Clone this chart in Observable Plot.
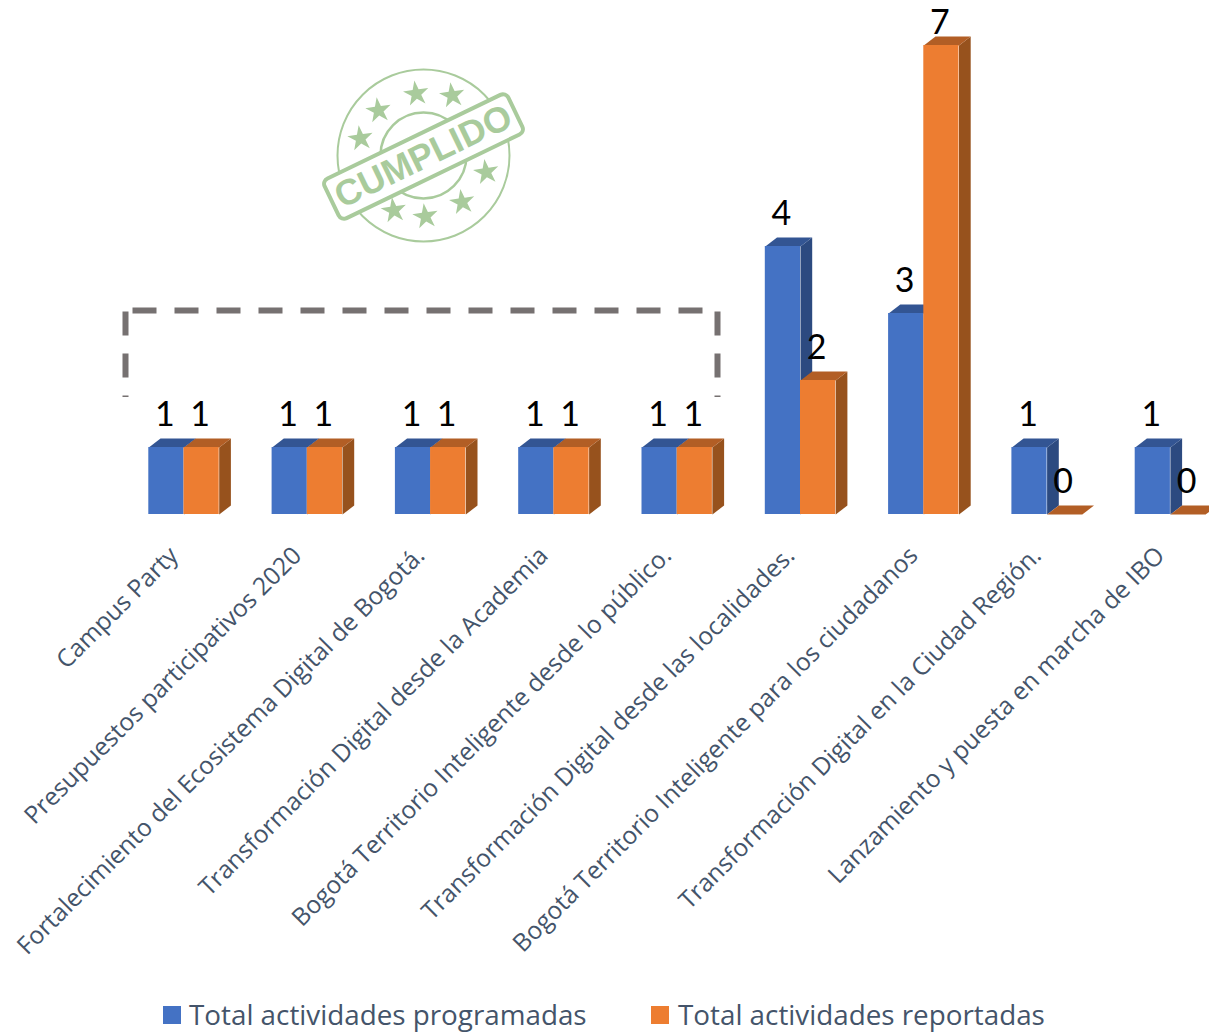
<!DOCTYPE html>
<html><head><meta charset="utf-8">
<script src="https://cdn.jsdelivr.net/npm/d3@7"></script>
<script src="https://cdn.jsdelivr.net/npm/@observablehq/plot@0.6"></script>
<style>
html,body{margin:0;padding:0;background:#fff}
svg{display:block;overflow:visible}
#legend{position:relative;height:43px;font-family:"Open Sans",sans-serif;font-size:27.8px;color:#44546A}
#legend span{position:absolute;top:-1px;line-height:50px;white-space:nowrap}
#legend i{position:absolute;top:16px;width:18px;height:18px}
</style></head><body>
<div id="chart"></div>
<div id="legend"></div>
<script>
const categories = ["Campus Party","Presupuestos participativos 2020","Fortalecimiento del Ecosistema Digital de Bogotá.","Transformación Digital desde la Academia","Bogotá Territorio Inteligente desde lo público.","Transformación Digital desde las localidades.","Bogotá Territorio Inteligente para los ciudadanos","Transformación Digital en la Ciudad Región.","Lanzamiento y puesta en marcha de IBO"];
const programadas = [1,1,1,1,1,4,3,1,1];
const reportadas  = [1,1,1,1,1,2,7,0,0];
const seriesNames = ["Total actividades programadas","Total actividades reportadas"];
const blue = {front:"#4472C4",top:"#335593",side:"#2C4A80"};
const orange = {front:"#ED7D31",top:"#B25E25",side:"#97521D"};

// Layout of the pseudo-3D columns, in scale units
const pxPerCat = 123.3, pxPerVal = 67;
const barW = 35.2/pxPerCat, depX = 11.7/pxPerCat, depY = 9/pxPerVal;
const marginLeft = 121.85, baselinePx = 514, height = 990, width = 1209;
const X = px => (px-marginLeft)/pxPerCat-0.5;   // annotation helper: page px to x units
const Y = px => (baselinePx-px)/pxPerVal;        // annotation helper: page px to y units

function faces(values, offset, c, tag){
  const poly=[]; const rect=[];
  values.forEach((v,i)=>{
    const l=i+offset, r=l+barW;
    const id=tag+i;
    if(v>0) [[r,0],[r+depX,depY],[r+depX,v+depY],[r,v]].forEach(p=>poly.push({x:p[0],y:p[1],id:id+"s",fill:c.side}));
    [[l,v],[l+depX,v+depY],[r+depX,v+depY],[r,v]].forEach(p=>poly.push({x:p[0],y:p[1],id:id+"t",fill:c.top}));
    rect.push({x1:l,x2:r,y1:0,y2:v,fill:c.front});
  });
  return {poly,rect};
}
const fb = faces(programadas,-barW,blue,"b");
const fo = faces(reportadas,0,orange,"o");
const polyMark = f => Plot.line(f.poly,{x:"x",y:"y",z:"id",fill:"fill",stroke:null,curve:"linear-closed"});
const rectMark = f => Plot.rectY(f.rect,{x1:"x1",x2:"x2",y1:"y1",y2:"y2",fill:"fill",inset:0});

const labels = [
  ...programadas.map((v,i)=>({x:i-barW/2,v})),
  ...reportadas.map((v,i)=>({x:i+barW/2,v}))
];
const maxV = d3.max(labels,d=>d.v);
const valueFont = {fontSize:34,fill:"#000",fontFamily:"Lato,sans-serif",dx:-1.5};

// Dashed frame annotation
const dash = {stroke:"#767171",strokeWidth:6,strokeDasharray:"24,18",strokeLinecap:"butt"};
const frameTop = [[132,310],[703,310]].map(p=>({x:X(p[0]),y:Y(p[1])}));
const frameL = [[125,311],[125,396.5]].map(p=>({x:X(p[0]),y:Y(p[1])}));
const frameR = [[717,311],[717,396.5]].map(p=>({x:X(p[0]),y:Y(p[1])}));

// "CUMPLIDO" stamp annotation
const stampGreen = "#A9CB9C";
const sc = {x:423,y:156}, ang = 25.8*Math.PI/180;
const rot = (a,b)=>({x:X(sc.x+a*Math.cos(ang)+b*Math.sin(ang)),y:Y(sc.y-a*Math.sin(ang)+b*Math.cos(ang)),id:"r"});
const bannerInner = [rot(-96,-16),rot(96,-16),rot(96,16),rot(-96,16)];
const starsPx = [[415.7,93.3],[451.7,95],[378,110],[360,138],[485.7,171.7],[461.7,201.7],[425,216],[393.3,210]];
const stars = starsPx.map(p=>({x:X(p[0]),y:Y(p[1])}));
const centre = [{x:X(sc.x),y:Y(155)}];

const chart = Plot.plot({
  width,height,marginLeft,marginRight:0,marginTop:0,marginBottom:height-baselinePx,
  x:{type:"linear",domain:[-0.5,X(width)],axis:null},
  y:{type:"linear",domain:[0,Y(0)],axis:null},
  color:{type:"identity"},
  style:{background:"#fff",fontFamily:"'Open Sans',sans-serif"},
  marks:[
    // stamp
    Plot.dot(centre,{x:"x",y:"y",r:86,stroke:stampGreen,strokeWidth:2,fill:"none"}),
    Plot.dot(centre,{x:"x",y:"y",r:43,stroke:stampGreen,strokeWidth:2.5,fill:"none"}),
    Plot.dot(stars,{x:"x",y:"y",symbol:"star",r:8,fill:stampGreen,stroke:null,rotate:-8}),
    Plot.line(bannerInner,{x:"x",y:"y",z:"id",curve:"linear-closed",fill:stampGreen,stroke:stampGreen,strokeWidth:16,strokeLinejoin:"round"}),
    Plot.line(bannerInner,{x:"x",y:"y",z:"id",curve:"linear-closed",fill:"#fff",stroke:"#fff",strokeWidth:8,strokeLinejoin:"round"}),
    Plot.text(["CUMPLIDO"],{x:X(sc.x),y:Y(sc.y),text:d=>d,rotate:-25.8,fontSize:36,fontWeight:700,fontFamily:"'Liberation Sans',sans-serif",fill:stampGreen}),
    // frame
    Plot.line(frameTop,{x:"x",y:"y",...dash}),
    Plot.line(frameL,{x:"x",y:"y",...dash}),
    Plot.line(frameR,{x:"x",y:"y",...dash}),
    // columns
    polyMark(fb),rectMark(fb),
    polyMark(fo),rectMark(fo),
    // value labels
    Plot.text(labels.filter(d=>d.v<maxV),{x:"x",y:"v",text:"v",dy:-32,...valueFont}),
    Plot.text(labels.filter(d=>d.v===maxV),{x:"x",y:"v",text:"v",dy:-22,...valueFont}),
    // category axis
    Plot.axisX({ticks:categories.map((_,i)=>i),tickFormat:i=>categories[i],tickRotate:-45,tickSize:0,tickPadding:30,dx:-10,dy:7,fontSize:24.6,fill:"#44546A",label:null,textOverflow:null,lineWidth:Infinity,fontVariant:"normal"})
  ]
});
document.getElementById("chart").append(chart);

const lg = document.getElementById("legend");
[[163,189,blue.front],[651,678,orange.front]].forEach((l,i)=>{
  const sq=document.createElement("i");sq.style.left=l[0]+"px";sq.style.background=l[2];lg.append(sq);
  const t=document.createElement("span");t.style.left=l[1]+"px";t.textContent=seriesNames[i];lg.append(t);
});
</script>
</body></html>
